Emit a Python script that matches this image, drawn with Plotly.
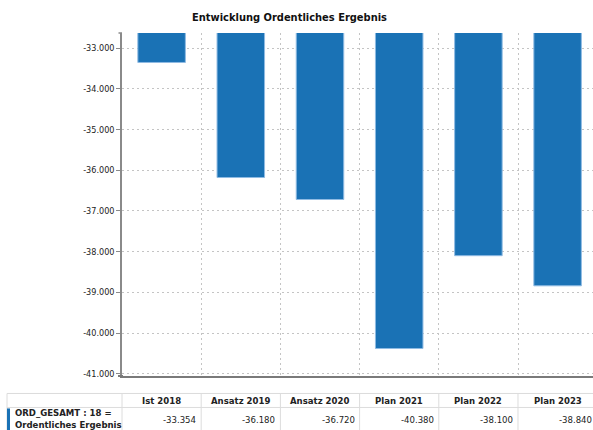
import plotly.graph_objects as go

categories = ["Ist 2018", "Ansatz 2019", "Ansatz 2020", "Plan 2021", "Plan 2022", "Plan 2023"]
values = [-33354, -36180, -36720, -40380, -38100, -38840]
value_labels = ["-33.354", "-36.180", "-36.720", "-40.380", "-38.100", "-38.840"]
y_tickvals = [-41000, -40000, -39000, -38000, -37000, -36000, -35000, -34000, -33000]
y_ticktext = ["-41.000", "-40.000", "-39.000", "-38.000", "-37.000", "-36.000", "-35.000", "-34.000", "-33.000"]
row_label = "ORD_GESAMT : 18 =<br>Ordentliches Ergebnis"
title_text = "Entwicklung Ordentliches Ergebnis"

W, H = 593, 430
PLOT_L, PLOT_T, PLOT_B = 122, 33, 376.5
X_MIN, X_MAX = -0.5, 5.447
Y_MIN, Y_MAX = -41055, -32630
CAT_W = (W - PLOT_L) / (X_MAX - X_MIN)

FONT = "DejaVu Sans Condensed, DejaVu Sans, sans-serif"
BAR = "#1a72b5"
GRID = "#c4c4c4"
AXIS = "#8a8a8a"
TLINE = "#dcdcdc"


def px(x):
    return x / W


def py(y):
    return (PLOT_B - y) / (PLOT_B - PLOT_T)


def cat_px(v):
    return PLOT_L + (v - X_MIN) * CAT_W


xs = list(range(len(categories)))

fig = go.Figure()
fig.add_trace(go.Bar(
    x=xs, y=values, width=0.6,
    marker=dict(color=BAR, line=dict(color="#8fbbe3", width=1)),
    hoverinfo="skip", showlegend=False,
))

shapes = []
annotations = []

# y-axis top hook
shapes.append(dict(type="line", xref="paper", yref="paper",
                   x0=px(118.5), x1=px(PLOT_L), y0=1, y1=1,
                   line=dict(color=AXIS, width=1.5)))
# x axis line extension to the left
shapes.append(dict(type="line", xref="paper", yref="paper",
                   x0=px(118), x1=px(PLOT_L + 1), y0=0, y1=0,
                   line=dict(color="#7a7a7a", width=2)))

# table
T_TOP, T_MID, T_BOT = 394, 408, 440
T_LEFT = 7
shapes.append(dict(type="line", xref="paper", yref="paper", x0=px(T_LEFT), x1=1,
                   y0=py(T_TOP), y1=py(T_TOP), line=dict(color=TLINE, width=1)))
shapes.append(dict(type="line", xref="paper", yref="paper", x0=px(T_LEFT), x1=1,
                   y0=py(T_MID), y1=py(T_MID), line=dict(color=TLINE, width=1)))
shapes.append(dict(type="line", xref="paper", yref="paper", x0=px(T_LEFT), x1=px(T_LEFT),
                   y0=py(T_TOP), y1=py(T_BOT), line=dict(color=TLINE, width=1)))
for i in range(len(categories) + 1):
    xb = cat_px(i - 0.5)
    if xb <= W:
        shapes.append(dict(type="line", xref="paper", yref="paper", x0=px(xb), x1=px(xb),
                           y0=py(T_TOP), y1=py(T_BOT), line=dict(color=TLINE, width=1)))
# blue series marker
shapes.append(dict(type="rect", xref="paper", yref="paper", x0=px(T_LEFT), x1=px(T_LEFT + 3),
                   y0=py(T_MID + 1), y1=py(T_BOT), line=dict(width=0), fillcolor=BAR))

for i, (c, vl) in enumerate(zip(categories, value_labels)):
    annotations.append(dict(text="<b>" + c + "</b>", xref="paper", yref="paper",
                            x=px(cat_px(i)), y=py(401.5), xanchor="center", yanchor="middle",
                            showarrow=False, font=dict(family=FONT, size=9.5, color="#222")))
    annotations.append(dict(text=vl, xref="paper", yref="paper",
                            x=px(cat_px(i + 0.5) - 3), y=py(420.5), xanchor="right", yanchor="middle",
                            showarrow=False, font=dict(family=FONT, size=9.5, color="#222")))

annotations.append(dict(text="<b>" + row_label + "</b>", xref="paper", yref="paper",
                        x=px(13), y=py(419.3), xanchor="left", yanchor="middle", align="left",
                        showarrow=False, font=dict(family=FONT, size=9.5, color="#222")))

fig.update_layout(
    width=W, height=H,
    margin=dict(l=0, r=0, t=PLOT_T, b=H - PLOT_B),
    paper_bgcolor="white", plot_bgcolor="white",
    title=dict(text="<b>" + title_text + "</b>", x=px(289.5), xanchor="center",
               y=1 - 17.5 / H, yanchor="middle", yref="container",
               font=dict(family=FONT, size=11, color="#111")),
    xaxis=dict(domain=[PLOT_L / W, 1], range=[X_MIN, X_MAX], type="linear",
               tickvals=[i + 0.5 for i in xs], showticklabels=False, ticks="",
               showgrid=True, gridcolor=GRID, griddash="2px,3px", gridwidth=1,
               zeroline=False, showline=True, linecolor="#7a7a7a", linewidth=2),
    yaxis=dict(range=[Y_MIN, Y_MAX], tickvals=y_tickvals, ticktext=y_ticktext,
               ticks="outside", ticklen=4, tickcolor=AXIS, tickwidth=1,
               showgrid=True, gridcolor=GRID, griddash="2px,3px", gridwidth=1,
               zeroline=False, showline=True, linecolor=AXIS, linewidth=1.5,
               tickfont=dict(family=FONT, size=9, color="#222")),
    shapes=shapes, annotations=annotations, bargap=0.4,
)

fig.write_html("out.html")
